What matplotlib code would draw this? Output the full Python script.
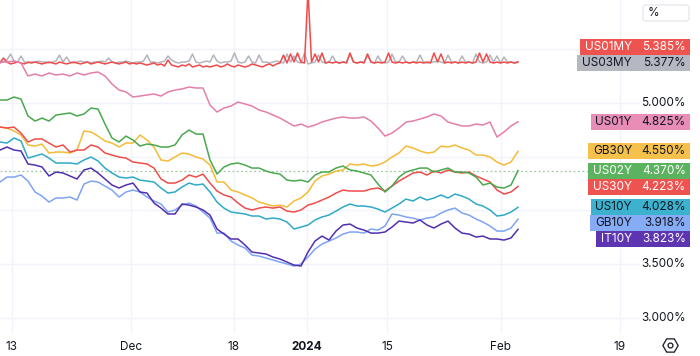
import numpy as np
import matplotlib.pyplot as plt
from matplotlib.transforms import Affine2D
from matplotlib.patches import Rectangle, FancyBboxPatch

plt.rcParams['font.family'] = ['Inter', 'DejaVu Sans']

# yields in %
# bills: two values per bar (149 points), notes/bonds: one value per bar (75 points)
us01my = [5.373, 5.419, 5.382, 5.364, 5.373, 5.382, 5.373, 5.364, 5.382, 5.373,
          5.382, 5.373, 5.364, 5.373, 5.382, 5.373, 5.364, 5.382, 5.373, 5.364,
          5.373, 5.382, 5.373, 5.364, 5.373, 5.382, 5.364, 5.373, 5.382, 5.373,
          5.364, 5.373, 5.382, 5.373, 5.364, 5.373, 5.382, 5.364, 5.373, 5.364,
          5.373, 5.364, 5.354, 5.364, 5.373, 5.354, 5.364, 5.345, 5.401, 5.354,
          5.345, 5.336, 5.354, 5.345, 5.364, 5.336, 5.345, 5.354, 5.336, 5.345,
          5.336, 5.345, 5.354, 5.336, 5.345, 5.364, 5.345, 5.336, 5.354, 5.345,
          5.336, 5.345, 5.364, 5.354, 5.345, 5.336, 5.354, 5.364, 5.345, 5.364,
          5.373, 5.447, 5.373, 5.457, 5.382, 5.466, 5.382, 5.373, 6.050, 5.382,
          5.457, 5.382, 5.466, 5.373, 5.382, 5.373, 5.382, 5.373, 5.382, 5.373,
          5.466, 5.382, 5.373, 5.382, 5.373, 5.457, 5.382, 5.373, 5.382, 5.373,
          5.382, 5.466, 5.382, 5.373, 5.382, 5.373, 5.382, 5.373, 5.382, 5.373,
          5.382, 5.373, 5.382, 5.373, 5.466, 5.382, 5.457, 5.373, 5.382, 5.373,
          5.382, 5.373, 5.382, 5.373, 5.382, 5.373, 5.382, 5.466, 5.382, 5.457,
          5.382, 5.373, 5.382, 5.373, 5.382, 5.373, 5.382, 5.373, 5.385]
us03my = [5.391, 5.382, 5.401, 5.456, 5.391, 5.382, 5.438, 5.382, 5.373, 5.382,
          5.382, 5.391, 5.382, 5.382, 5.373, 5.382, 5.391, 5.447, 5.382, 5.429,
          5.382, 5.373, 5.382, 5.391, 5.382, 5.382, 5.373, 5.382, 5.382, 5.391,
          5.382, 5.419, 5.382, 5.373, 5.382, 5.382, 5.391, 5.382, 5.373, 5.382,
          5.382, 5.391, 5.447, 5.382, 5.382, 5.373, 5.382, 5.391, 5.438, 5.401,
          5.382, 5.373, 5.382, 5.382, 5.391, 5.456, 5.382, 5.373, 5.382, 5.391,
          5.382, 5.447, 5.391, 5.373, 5.382, 5.382, 5.391, 5.466, 5.382, 5.373,
          5.382, 5.438, 5.382, 5.373, 5.447, 5.382, 5.382, 5.373, 5.382, 5.391,
          5.382, 5.373, 5.456, 5.382, 5.438, 5.382, 5.373, 5.466, 5.364, 5.373,
          5.382, 5.447, 5.382, 5.373, 5.382, 5.438, 5.382, 5.373, 5.382, 5.382,
          5.456, 5.382, 5.373, 5.382, 5.382, 5.447, 5.382, 5.373, 5.438, 5.382,
          5.373, 5.382, 5.456, 5.382, 5.382, 5.438, 5.382, 5.373, 5.382, 5.382,
          5.447, 5.382, 5.373, 5.382, 5.382, 5.391, 5.382, 5.373, 5.447, 5.382,
          5.382, 5.373, 5.438, 5.382, 5.382, 5.373, 5.456, 5.382, 5.373, 5.382,
          5.447, 5.382, 5.438, 5.373, 5.429, 5.382, 5.382, 5.373, 5.377]
us01y = [5.382, 5.382, 5.391, 5.373, 5.252, 5.270, 5.252, 5.280, 5.261, 5.270,
         5.252, 5.280, 5.261, 5.280, 5.289, 5.252, 5.177, 5.121, 5.103, 5.056,
         5.065, 5.075, 5.084, 5.065, 5.103, 5.121, 5.131, 5.149, 5.140, 5.140,
         4.981, 4.916, 4.953, 4.972, 5.009, 4.991, 4.972, 4.935, 4.916, 4.888,
         4.860, 4.823, 4.786, 4.804, 4.776, 4.795, 4.823, 4.842, 4.860, 4.870,
         4.860, 4.860, 4.870, 4.832, 4.767, 4.692, 4.720, 4.767, 4.823, 4.832,
         4.851, 4.870, 4.898, 4.879, 4.823, 4.804, 4.786, 4.786, 4.804, 4.795,
         4.823, 4.683, 4.730, 4.786, 4.825]
gb30y = [4.776, 4.767, 4.739, 4.702, 4.609, 4.599, 4.618, 4.534, 4.543, 4.543,
         4.534, 4.562, 4.739, 4.730, 4.692, 4.646, 4.627, 4.590, 4.627, 4.627,
         4.702, 4.655, 4.590, 4.469, 4.460, 4.497, 4.534, 4.525, 4.497, 4.478,
         4.422, 4.264, 4.264, 4.189, 4.171, 4.143, 4.115, 4.077, 4.059, 4.040,
         4.049, 4.031, 4.087, 4.115, 4.171, 4.273, 4.320, 4.338, 4.366, 4.376,
         4.432, 4.422, 4.432, 4.413, 4.422, 4.450, 4.497, 4.534, 4.599, 4.581,
         4.553, 4.534, 4.543, 4.599, 4.590, 4.609, 4.581, 4.562, 4.515, 4.515,
         4.497, 4.450, 4.422, 4.450, 4.550]
us02y = [5.028, 5.028, 5.056, 5.037, 4.879, 4.832, 4.860, 4.832, 4.888, 4.898,
         4.907, 4.879, 4.898, 4.953, 4.944, 4.804, 4.674, 4.637, 4.692, 4.655,
         4.599, 4.618, 4.609, 4.590, 4.590, 4.609, 4.702, 4.748, 4.711, 4.711,
         4.469, 4.338, 4.404, 4.432, 4.441, 4.422, 4.394, 4.394, 4.366, 4.348,
         4.338, 4.282, 4.273, 4.282, 4.264, 4.329, 4.357, 4.357, 4.394, 4.413,
         4.376, 4.366, 4.348, 4.329, 4.245, 4.171, 4.226, 4.310, 4.357, 4.376,
         4.394, 4.394, 4.357, 4.376, 4.394, 4.357, 4.357, 4.348, 4.310, 4.236,
         4.254, 4.217, 4.208, 4.236, 4.370]
us30y = [4.776, 4.767, 4.776, 4.720, 4.637, 4.665, 4.665, 4.627, 4.590, 4.609,
         4.543, 4.562, 4.562, 4.609, 4.590, 4.534, 4.515, 4.497, 4.487, 4.450,
         4.441, 4.432, 4.394, 4.292, 4.254, 4.254, 4.282, 4.329, 4.310, 4.338,
         4.254, 4.180, 4.143, 4.124, 4.068, 4.021, 4.003, 4.021, 4.031, 4.021,
         4.031, 3.993, 3.984, 4.003, 4.049, 4.068, 4.096, 4.124, 4.161, 4.189,
         4.180, 4.180, 4.180, 4.199, 4.208, 4.180, 4.226, 4.273, 4.310, 4.348,
         4.357, 4.329, 4.366, 4.348, 4.376, 4.357, 4.348, 4.357, 4.320, 4.292,
         4.264, 4.189, 4.152, 4.171, 4.223]
us10y = [4.637, 4.627, 4.674, 4.646, 4.487, 4.506, 4.525, 4.487, 4.441, 4.441,
         4.441, 4.432, 4.469, 4.497, 4.460, 4.394, 4.348, 4.310, 4.301, 4.310,
         4.282, 4.273, 4.264, 4.208, 4.161, 4.171, 4.217, 4.254, 4.236, 4.245,
         4.171, 4.077, 4.021, 3.984, 3.975, 3.966, 3.947, 3.947, 3.919, 3.928,
         3.919, 3.891, 3.826, 3.844, 3.863, 3.910, 3.938, 3.956, 3.993, 4.031,
         4.059, 4.040, 4.040, 4.031, 4.012, 3.984, 4.021, 4.059, 4.105, 4.087,
         4.124, 4.096, 4.115, 4.143, 4.115, 4.152, 4.133, 4.105, 4.059, 4.040,
         4.003, 3.947, 3.956, 3.984, 4.028]
gb10y = [4.264, 4.310, 4.310, 4.329, 4.273, 4.171, 4.133, 4.077, 4.115, 4.115,
         4.124, 4.096, 4.245, 4.273, 4.264, 4.226, 4.189, 4.124, 4.171, 4.189,
         4.171, 4.124, 4.087, 4.059, 3.984, 4.003, 4.049, 4.068, 4.040, 3.984,
         3.928, 3.788, 3.788, 3.714, 3.677, 3.649, 3.583, 3.574, 3.555, 3.537,
         3.518, 3.500, 3.481, 3.500, 3.565, 3.639, 3.686, 3.714, 3.742, 3.779,
         3.798, 3.798, 3.788, 3.826, 3.816, 3.854, 3.966, 3.956, 3.938, 3.928,
         3.910, 3.928, 3.938, 3.975, 4.003, 4.021, 3.975, 3.956, 3.919, 3.891,
         3.854, 3.807, 3.807, 3.835, 3.918]
it10y = [4.562, 4.590, 4.562, 4.553, 4.432, 4.422, 4.404, 4.320, 4.357, 4.348,
         4.320, 4.292, 4.376, 4.394, 4.348, 4.292, 4.236, 4.208, 4.236, 4.254,
         4.171, 4.161, 4.068, 4.021, 3.966, 3.966, 4.059, 4.049, 4.031, 4.003,
         3.956, 3.826, 3.779, 3.733, 3.733, 3.677, 3.611, 3.602, 3.593, 3.565,
         3.546, 3.518, 3.490, 3.481, 3.611, 3.714, 3.760, 3.723, 3.807, 3.863,
         3.872, 3.835, 3.816, 3.788, 3.788, 3.798, 3.844, 3.900, 3.891, 3.882,
         3.910, 3.863, 3.835, 3.872, 3.900, 3.835, 3.788, 3.779, 3.751, 3.760,
         3.733, 3.733, 3.723, 3.742, 3.823]

names = ['US03MY', 'US01MY', 'US01Y', 'GB30Y', 'US30Y', 'US02Y', 'US10Y', 'GB10Y', 'IT10Y']
series = [us03my, us01my, us01y, gb30y, us30y, us02y, us10y, gb10y, it10y]
line_colors = ['#b2b5be', '#f04a4a', '#e47fab', '#f5bb38', '#ef4d4a', '#4aa84e', '#2fa9c9', '#7ea4f3', '#512fb0']
box_colors = ['#b5b8c0', '#ef5350', '#e88db5', '#f6c14b', '#ef5350', '#5cb35f', '#3cb2cf', '#86acf5', '#5e35b1']
text_colors = ['#131722', 'white', '#131722', '#131722', 'white', 'white', '#131722', '#131722', 'white']

n_bars = 75
tick_pos = [1.71, 18.71, 33.43, 43.86, 55.29, 71.57, 88.57]
tick_labels = ['13', 'Dec', '18', '2024', '15', 'Feb', '19']
y_grid = [3.0, 3.5, 4.0, 4.5, 5.0, 5.5]

W, H = 700, 356
fig = plt.figure(figsize=(W / 100, H / 100), dpi=100)
ax = fig.add_axes([0, 23 / H, 640 / W, 333 / H])
ax.set_xlim(0, 640 / 7)
ax.set_ylim(2.857, 5.96)
for s in ax.spines.values():
    s.set_visible(False)
ax.set_axisbelow(True)
ax.set_yticks(y_grid)
ax.set_xticks(tick_pos)
ax.set_xticklabels(tick_labels, fontsize=8.5, color='#131722')
ax.tick_params(axis='x', length=0, pad=6)
ax.tick_params(axis='y', length=0, labelleft=False)
ax.grid(color='#f0f3fa', lw=1)
for lbl in ax.get_xticklabels():
    if lbl.get_text() == '2024':
        lbl.set_fontweight('bold')

for vals, c in zip(series, line_colors):
    x = np.linspace(0, n_bars - 1, len(vals))
    ax.plot(x, vals, color=c, lw=1.1)

ax.axhline(us02y[-1], color='#9fcaa1', lw=0.9, ls=(0, (1.5, 2)), zorder=1.5)

# pixel coords, origin top-left
T = Affine2D().scale(1, -1).translate(0, H)

def ypix(v):
    return H - ax.transData.transform((0, v))[1]

# right-side labels, stacked so they don't overlap
order = sorted(range(len(series)), key=lambda i: ypix(series[i][-1]))
ys = [ypix(series[i][-1]) for i in order]
bh = 16
for k in range(1, len(ys)):
    if ys[k] - ys[k - 1] < bh:
        if k == 1:
            ys[0] = ys[1] - bh
        else:
            ys[k] = ys[k - 1] + bh

for v in y_grid:
    yp = ypix(v)
    if any(abs(yp - yc) < bh / 2 + 6 for yc in ys):
        continue
    ax.text(686, yp, f'{v:.3f}%', transform=T, ha='right', va='center',
            fontsize=8.5, color='#131722', clip_on=False, zorder=5)

renderer = fig.canvas.get_renderer()
for i, yc in zip(order, ys):
    t = ax.text(632, yc, names[i], transform=T, ha='right', va='center', fontsize=8.5,
                color=text_colors[i], clip_on=False, zorder=8)
    ax.text(686, yc, f'{series[i][-1]:.3f}%', transform=T, ha='right', va='center',
            fontsize=8.5, color=text_colors[i], clip_on=False, zorder=8)
    x0 = t.get_window_extent(renderer).x0 - 5
    ax.add_patch(Rectangle((x0, yc - bh / 2), 690 - x0, bh, transform=T,
                           facecolor=box_colors[i], edgecolor='none', clip_on=False, zorder=7))

# unit box and settings icon
ax.add_patch(FancyBboxPatch((643, 5), 46, 16, boxstyle='round,pad=0,rounding_size=3',
                            transform=T, facecolor='white', edgecolor='#e0e3eb', lw=0.8,
                            clip_on=False, zorder=7))
ax.text(648, 13, '%', transform=T, ha='left', va='center', fontsize=8.5,
        color='#131722', clip_on=False, zorder=8)
ax.plot([670], [345], marker='H', ms=11, mfc='none', mec='#131722', mew=0.9,
        transform=T, clip_on=False)
ax.plot([670], [345], marker='o', ms=3.5, mfc='none', mec='#131722', mew=0.9,
        transform=T, clip_on=False)

fig.savefig('out.png', dpi=100)
